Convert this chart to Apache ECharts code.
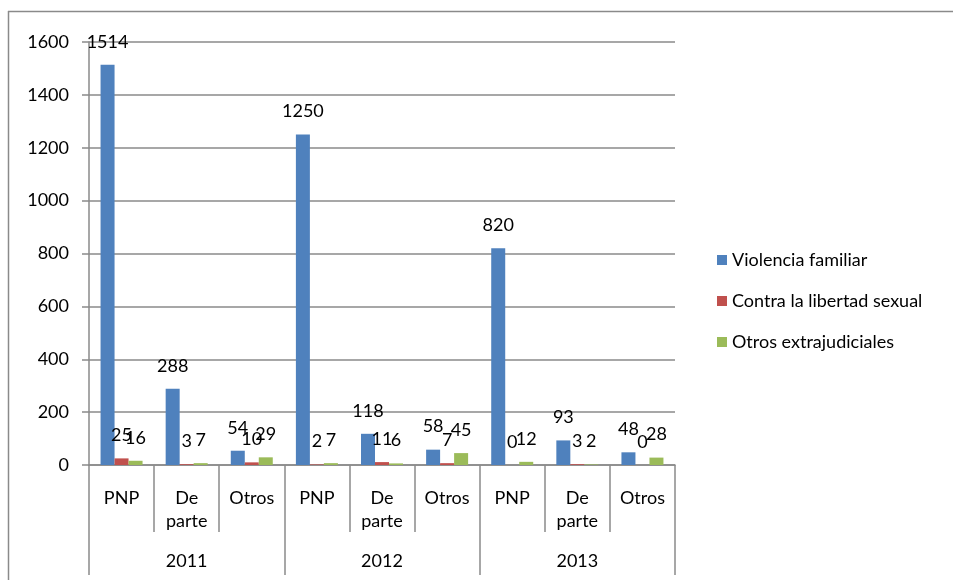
<!DOCTYPE html>
<html>
<head>
<meta charset="utf-8">
<script src="https://cdn.jsdelivr.net/npm/echarts@6/dist/echarts.min.js"></script>
<style>html,body{margin:0;padding:0;background:#fff}#c{width:953px;height:580px}</style>
</head>
<body>
<div id="c"></div>
<script>
const categories = ['PNP', 'De\nparte', 'Otros', 'PNP', 'De\nparte', 'Otros', 'PNP', 'De\nparte', 'Otros'];
const years = ['2011', '2012', '2013'];
const seriesNames = ['Violencia familiar', 'Contra la libertad sexual', 'Otros extrajudiciales'];
const violencia = [1514, 288, 54, 1250, 118, 58, 820, 93, 48];
const libertad = [25, 3, 10, 2, 11, 7, 0, 3, 0];
const extrajud = [16, 7, 29, 7, 6, 45, 12, 2, 28];
const yTicks = [0, 200, 400, 600, 800, 1000, 1200, 1400, 1600];

const FONT = 'Lato';
const FS = 18;
const GRAY = '#8a8a8a';
const colors = ['#4F81BD', '#C0504D', '#9BBB59'];
const values = [violencia, libertad, extrajud];

const chart = echarts.init(document.getElementById('c'));
chart.setOption({
  animation: false,
  textStyle: { fontFamily: FONT },
  grid: { left: 89, right: 278, top: 42, bottom: 115 },
  legend: {
    orient: 'vertical', left: 712, top: 246,
    itemWidth: 10, itemHeight: 10, itemGap: 23,
    icon: 'rect',
    textStyle: { fontFamily: FONT, fontSize: FS, color: '#000' },
    data: seriesNames
  },
  xAxis: [
    {
      type: 'category', data: categories, position: 'bottom',
      axisLine: { show: true, lineStyle: { color: GRAY, width: 1.5 } },
      axisTick: { show: true, length: 67, interval: 0, lineStyle: { color: GRAY, width: 1.5 } },
      axisLabel: { interval: 0, margin: 22, fontFamily: FONT, fontSize: FS, color: '#000', lineHeight: 23 }
    },
    {
      type: 'category', data: years, position: 'bottom',
      axisLine: { show: false },
      axisTick: { show: true, length: 110, interval: 0, lineStyle: { color: GRAY, width: 1.5 } },
      axisLabel: { interval: 0, margin: 87, fontFamily: FONT, fontSize: FS, color: '#000' }
    }
  ],
  yAxis: {
    type: 'value', min: yTicks[0], max: yTicks[yTicks.length - 1], interval: 200,
    axisLine: { show: true, lineStyle: { color: GRAY, width: 1.5 } },
    axisTick: { show: true, length: 7, lineStyle: { color: GRAY, width: 1.5 } },
    splitLine: { show: true, lineStyle: { color: GRAY, width: 1.5 } },
    axisLabel: { margin: 20, fontFamily: FONT, fontSize: FS, color: '#000', formatter: v => String(v) }
  },
  series: seriesNames.map((n, i) => ({
    name: n, type: 'bar', xAxisIndex: 0, data: values[i],
    barWidth: 14, barGap: '0%',
    itemStyle: { color: colors[i] },
    label: { show: true, position: 'top', distance: 14, fontFamily: FONT, fontSize: FS, color: '#000' }
  })),
  graphic: [
    { type: 'line', shape: { x1: 8, y1: 11.5, x2: 953, y2: 11.5 }, style: { stroke: GRAY, lineWidth: 1.5 } },
    { type: 'line', shape: { x1: 8.5, y1: 11, x2: 8.5, y2: 580 }, style: { stroke: GRAY, lineWidth: 1.5 } }
  ]
});
</script>
</body>
</html>
